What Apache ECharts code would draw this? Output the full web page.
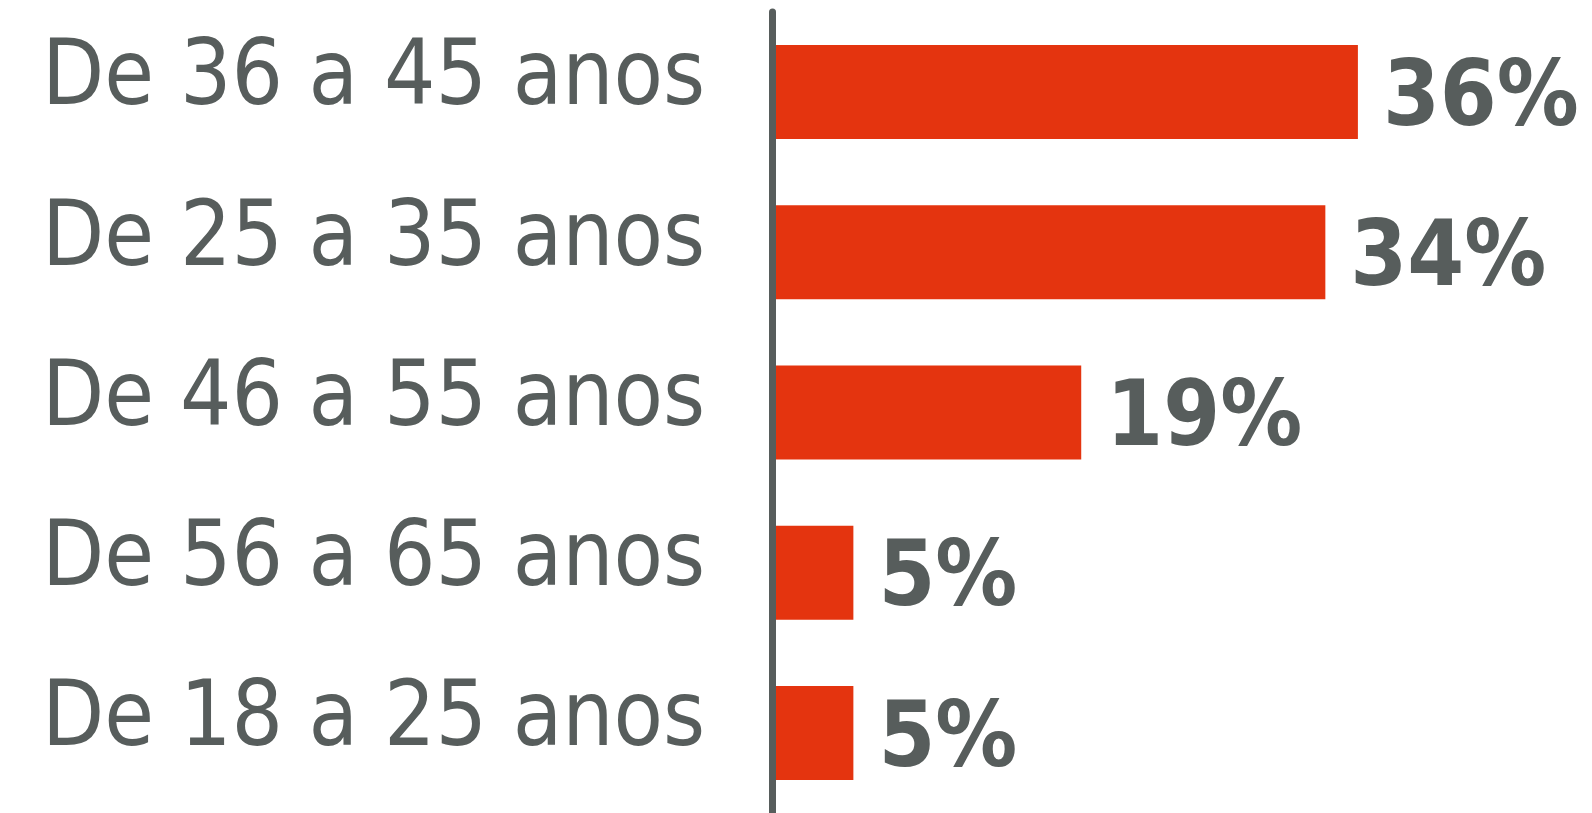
<!DOCTYPE html>
<html>
<head>
<meta charset="utf-8">
<script src="https://cdn.jsdelivr.net/npm/echarts@6/dist/echarts.min.js"></script>
<style>
    html, body { margin: 0; padding: 0; background: #fff; }
    #main { width: 1592px; height: 813px; }
</style>
</head>
<body>
<div id="main"></div>
<script>
const categories = ['De 36 a 45 anos', 'De 25 a 35 anos', 'De 46 a 55 anos', 'De 56 a 65 anos', 'De 18 a 25 anos']
const values = [36, 34, 19, 5, 5]

const GRAY = '#575d5c'
const RED = '#e4340f'

window.addEventListener('load', () => {
    main()
})

// pick the narrowest installed font we know of
function pickFont() {
    const ctx = document.createElement('canvas').getContext('2d')
    const sample = 'De 36 a 45 anos'
    const candidates = ['Liberation Sans Narrow', 'DejaVu Sans Condensed', 'Roboto Condensed', 'Roboto', 'Liberation Sans']
    for (const name of candidates) {
        let same = true
        for (const fb of ['monospace', 'serif']) {
            ctx.font = `100px ${fb}`
            const w0 = ctx.measureText(sample).width
            ctx.font = `100px "${name}", ${fb}`
            const w1 = ctx.measureText(sample).width
            if (w0 !== w1) same = false
        }
        if (!same) return name
    }
    return 'sans-serif'
}

function fitSize(family, weight, text, target, maxSize) {
    const ctx = document.createElement('canvas').getContext('2d')
    ctx.font = `${weight} 100px "${family}"`
    const w = ctx.measureText(text).width
    return Math.min(maxSize, Math.floor(100 * target / w))
}

function main() {
    const family = pickFont()
    const labelSize = fitSize(family, 'normal', 'De 36 a 45 anos', 665, 110)
    const valueSize = fitSize(family, 'bold', '36%', 196, 110)

    const chart = echarts.init(document.getElementById('main'))

    const option = {
        animation: false,
        grid: {
            left: 772,
            right: 169,
            top: 12,
            bottom: -12
        },
        xAxis: {
            type: 'value',
            min: 0,
            max: 40,
            show: false
        },
        yAxis: {
            type: 'category',
            data: categories,
            inverse: true,
            offset: 3,
            z: 10,
            axisTick: { show: false },
            axisLine: {
                lineStyle: { color: GRAY, width: 7 }
            },
            axisLabel: {
                align: 'left',
                verticalAlign: 'bottom',
                lineHeight: 22,
                margin: 727,
                color: GRAY,
                fontFamily: family,
                fontSize: labelSize
            }
        },
        series: [
            {
                type: 'bar',
                data: values,
                barWidth: 94,
                itemStyle: { color: RED },
                label: {
                    show: true,
                    position: 'right',
                    distance: 25,
                    offset: [0, 9],
                    formatter: '{c}%',
                    color: GRAY,
                    fontFamily: family,
                    fontWeight: 'bold',
                    fontSize: valueSize
                }
            }
        ]
    }
    chart.setOption(option)
}
</script>
</body>
</html>
